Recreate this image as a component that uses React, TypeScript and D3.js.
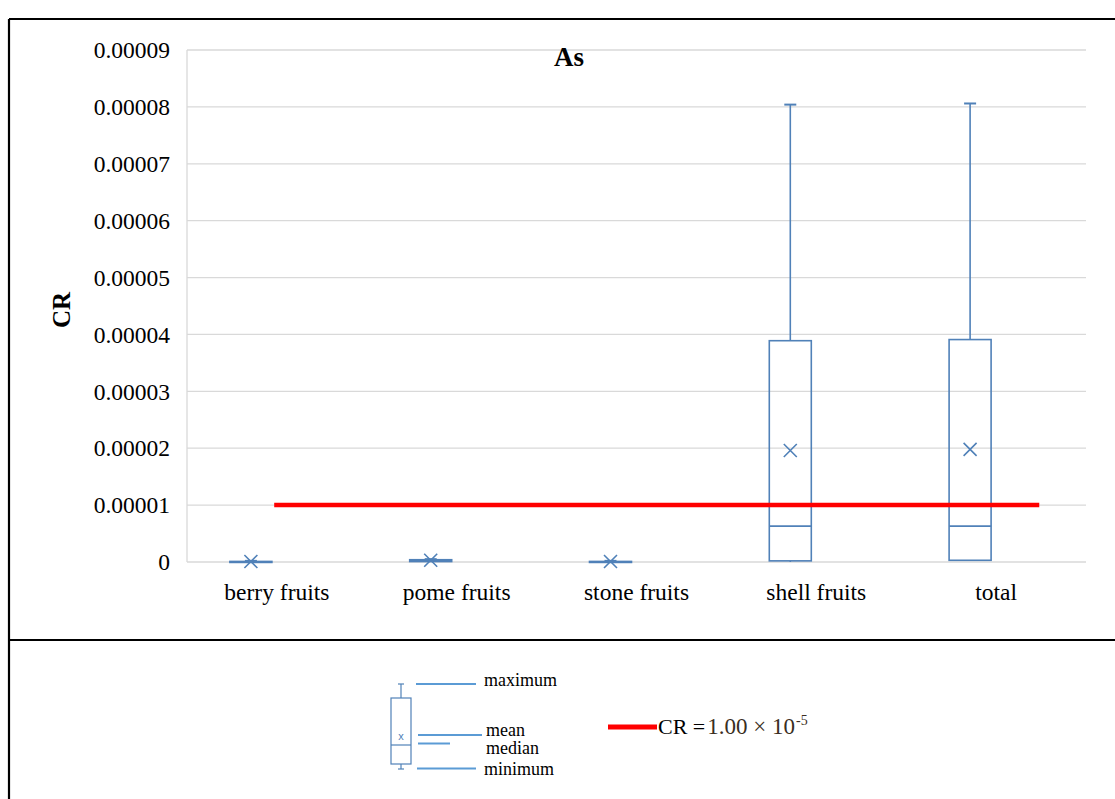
import React from 'react';
import * as d3 from 'd3';

// data
const categories = ['berry fruits', 'pome fruits', 'stone fruits', 'shell fruits', 'total'];
const minVals = [0, 0.00000005, 0, 0, 0.0000002];
const q1Vals = [0.00000001, 0.00000008, 0.00000001, 0.0000002, 0.0000003];
const medianVals = [0.00000004, 0.0000002, 0.00000004, 0.0000063, 0.0000063];
const q3Vals = [0.0000001, 0.0000004, 0.0000001, 0.0000389, 0.0000391];
const maxVals = [0.0000002, 0.0000005, 0.0000002, 0.0000804, 0.0000806];
const meanVals = [0.00000008, 0.0000003, 0.00000008, 0.0000196, 0.0000198];
const yTicks = [0, 0.00001, 0.00002, 0.00003, 0.00004, 0.00005, 0.00006, 0.00007, 0.00008, 0.00009];
const crLimit = 0.00001;

const W = 1115;
const H = 799;
const plot = { left: 187, right: 1086, top: 50, bottom: 562 };
const boxColor = '#5081b8';
const serif = '"Liberation Serif", "Times New Roman", serif';

export default function App() {
  const x = d3.scaleBand().domain(categories).range([plot.left, plot.right]);
  const y = d3.scaleLinear().domain([0, 0.00009]).range([plot.bottom, plot.top]);
  const bw = x.bandwidth();
  const boxHalf = 21;
  const boxCenter = (c: string) => (x(c) as number) + bw / 2 - 26;
  const labelCenter = (c: string) => (x(c) as number) + bw / 2;
  const fmt = (v: number) => (v === 0 ? '0' : d3.format('.5f')(v));

  const crLine = d3.line<number>()
    .x((d) => d)
    .y(() => y(crLimit));
  const crStart = (x(categories[0]) as number) + bw * 0.485;
  const crEnd = (x(categories[categories.length - 1]) as number) + bw * 0.74;

  return (
    <svg width={W} height={H} style={{ position: 'absolute', left: 0, top: 0, background: '#fff' }}>
      {/* frame */}
      <g stroke="#000" strokeWidth={2.2}>
        <line x1={9} y1={19} x2={W} y2={19} />
        <line x1={9} y1={19} x2={9} y2={H} />
        <line x1={9} y1={640} x2={W} y2={640} />
      </g>

      {/* grid */}
      {yTicks.map((t) => (
        <line key={t} x1={plot.left} x2={plot.right} y1={y(t)} y2={y(t)} stroke="#d9d9d9" strokeWidth={1.3} />
      ))}
      <line x1={plot.left} x2={plot.left} y1={plot.top} y2={plot.bottom} stroke="#d9d9d9" strokeWidth={1.3} />

      {/* y labels */}
      {yTicks.map((t) => (
        <text key={t} x={170} y={y(t)} dy="0.35em" textAnchor="end" fontFamily={serif} fontSize={23.5} fill="#000">
          {fmt(t)}
        </text>
      ))}
      <text
        transform={`translate(70,${(plot.top + plot.bottom) / 2 + 4}) rotate(-90)`}
        textAnchor="middle"
        fontFamily={serif}
        fontWeight="bold"
        fontSize={25}
      >
        CR
      </text>
      <text x={569} y={66} textAnchor="middle" fontFamily={serif} fontWeight="bold" fontSize={27}>
        As
      </text>

      {/* x labels */}
      {categories.map((c) => (
        <text key={c} x={labelCenter(c)} y={600} textAnchor="middle" fontFamily={serif} fontSize={23.5}>
          {c}
        </text>
      ))}

      {/* boxes */}
      {categories.map((c, i) => {
        const cx = boxCenter(c);
        const top = y(q3Vals[i]);
        const bot = y(q1Vals[i]);
        const m = y(meanVals[i]);
        return (
          <g key={c} stroke={boxColor} fill="none" strokeWidth={1.6}>
            <line x1={cx} x2={cx} y1={y(maxVals[i])} y2={top} />
            <line x1={cx - 6} x2={cx + 6} y1={y(maxVals[i])} y2={y(maxVals[i])} strokeWidth={2} />
            <line x1={cx} x2={cx} y1={y(minVals[i])} y2={bot} />
            <rect x={cx - boxHalf} y={top} width={boxHalf * 2} height={Math.max(bot - top, 1)} />
            <line x1={cx - boxHalf} x2={cx + boxHalf} y1={y(medianVals[i])} y2={y(medianVals[i])} />
            <path d={`M${cx - 6.5},${m - 6.5}L${cx + 6.5},${m + 6.5}M${cx - 6.5},${m + 6.5}L${cx + 6.5},${m - 6.5}`} />
          </g>
        );
      })}

      {/* CR limit */}
      <path d={crLine([crStart, crEnd]) as string} stroke="#ff0000" strokeWidth={4.5} fill="none" />

      {/* legend */}
      <g stroke={boxColor} fill="none" strokeWidth={1.2}>
        <line x1={401} x2={401} y1={684} y2={698} />
        <line x1={398} x2={404} y1={684} y2={684} />
        <rect x={391} y={698} width={20} height={66} />
        <line x1={391} x2={411} y1={745} y2={745} />
        <line x1={401} x2={401} y1={764} y2={769} />
        <line x1={398} x2={404} y1={769} y2={769} />
      </g>
      <text x={401} y={740} textAnchor="middle" fontFamily="Arial, sans-serif" fontSize={11} fill={boxColor}>x</text>
      <g stroke="#5b9bd5" strokeWidth={2}>
        <line x1={416} x2={476} y1={684} y2={684} />
        <line x1={418} x2={482} y1={735} y2={735} />
        <line x1={418} x2={450} y1={743.5} y2={743.5} />
        <line x1={417} x2={476} y1={768.5} y2={768.5} />
      </g>
      <g fontFamily={serif} fontSize={18} fill="#000">
        <text x={484} y={686}>maximum</text>
        <text x={486} y={736}>mean</text>
        <text x={486} y={754}>median</text>
        <text x={484} y={775}>minimum</text>
      </g>
      <line x1={608} x2={657} y1={727} y2={727} stroke="#ff0000" strokeWidth={5} />
      <text x={658} y={734} fontFamily={serif} fontSize={22} fill="#000">
        CR =<tspan fill="#3a2e22" dx={2} fontSize={23}>1.00 × 10</tspan>
        <tspan fill="#3a2e22" fontSize={14} dx={1} dy={-9}>-5</tspan>
      </text>
    </svg>
  );
}
